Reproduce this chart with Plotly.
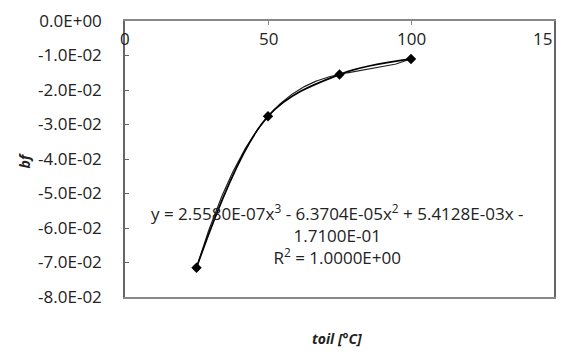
import numpy as np
import plotly.graph_objects as go

# Oil temperature [°C] and fitted bf values
toil = [25, 50, 75, 100]
bf = [-0.0715, -0.0276, -0.0155, -0.0110]

# Cubic trendline coefficients (highest power first)
coef = [2.5580e-07, -6.3704e-05, 5.4128e-03, -1.7100e-01]

x_tick_vals = [0, 50, 100, 150]
x_tick_text = ["0", "50", "100", "15"]
y_tick_vals = [0.0, -0.01, -0.02, -0.03, -0.04, -0.05, -0.06, -0.07, -0.08]
y_tick_text = ["0.0E+00", "-1.0E-02", "-2.0E-02", "-3.0E-02", "-4.0E-02",
               "-5.0E-02", "-6.0E-02", "-7.0E-02", "-8.0E-02"]

FONT = "Open Sans"
TXT = "#222"
FS = 17

W, H, L, R, T, B = 565, 356, 125, 9, 13, 59
pw, ph = W - L - R, H - T - B


def px_to_paper(px, py):
    """Convert a pixel position on the page to paper coordinates."""
    return (px - L) / pw, (H - B - py) / ph


xt = np.linspace(min(toil), max(toil), 200)
yt = np.polyval(coef, xt)

fig = go.Figure()
# polynomial trendline
fig.add_trace(go.Scatter(
    x=xt, y=yt, mode="lines",
    line=dict(color="#222", width=1.2), hoverinfo="skip", showlegend=False,
))
# measured values with smoothed connecting line
fig.add_trace(go.Scatter(
    x=toil, y=bf, mode="lines+markers",
    line=dict(color="black", width=1.7, shape="spline", smoothing=1.0),
    marker=dict(symbol="diamond", size=8, color="black"),
    showlegend=False,
))

# x tick labels sit just below the top axis line, inside the plot
for v, t in zip(x_tick_vals, x_tick_text):
    anchor = "right" if v == x_tick_vals[-1] else "center"
    fig.add_annotation(
        x=v, y=1, xref="x", yref="paper", yshift=-4, text=t, showarrow=False,
        xanchor=anchor, yanchor="top", font=dict(family=FONT, size=FS, color=TXT),
    )

eq = ("y = 2.5580E-07x<sup>3</sup> - 6.3704E-05x<sup>2</sup> + 5.4128E-03x -<br>"
      "1.7100E-01<br>R<sup>2</sup> = 1.0000E+00")
fig.add_annotation(
    x=74.0, y=-0.0620, xref="x", yref="y", text=eq, showarrow=False,
    font=dict(family=FONT, size=FS, color=TXT), align="center",
)

tx, ty = px_to_paper(338, 340)
fig.add_annotation(
    x=tx, y=ty, xref="paper", yref="paper", text="<b><i>toil [°C]</i></b>",
    xanchor="center", yanchor="middle",
    showarrow=False, font=dict(family=FONT, size=14, color=TXT),
)
bx, by = px_to_paper(24, 157)
fig.add_annotation(
    x=bx, y=by, xref="paper", yref="paper", text="<b><i>bf</i></b>",
    xanchor="center", yanchor="middle",
    showarrow=False, textangle=-90, font=dict(family=FONT, size=14, color=TXT),
)

fig.update_layout(
    width=W, height=H,
    margin=dict(l=L, r=R, t=T, b=B),
    paper_bgcolor="white", plot_bgcolor="white",
    font=dict(family=FONT, size=FS, color=TXT),
    xaxis=dict(
        range=[0, 150], side="top", tickvals=x_tick_vals,
        ticks="inside", ticklen=4, tickcolor="#888", showticklabels=False,
        showgrid=False, zeroline=False,
        showline=True, linecolor="#888", linewidth=1.5, mirror=True,
    ),
    yaxis=dict(
        range=[-0.08, 0.0], tickvals=y_tick_vals, ticktext=y_tick_text,
        ticks="inside", ticklen=4, tickcolor="#666", ticklabelstandoff=18,
        showgrid=False, zeroline=False,
        showline=True, linecolor="#666", linewidth=1.5, mirror=True,
    ),
)

fig.write_html("out.html")
